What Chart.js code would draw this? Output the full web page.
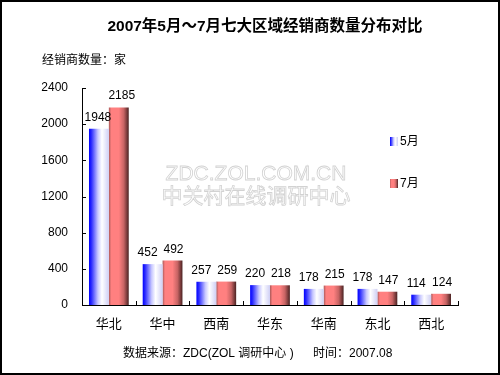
<!DOCTYPE html>
<html>
<head>
<meta charset="utf-8">
<script src="https://cdn.jsdelivr.net/npm/chart.js@4.4.0/dist/chart.umd.min.js"></script>
<style>
    html, body { margin: 0; padding: 0; background: #fff; }
    #wrap { width: 500px; height: 375px; position: relative; }
</style>
</head>
<body>
<div id="wrap"><canvas id="chart" width="500" height="375"></canvas></div>
<script>
const regions = ['华北', '华中', '西南', '华东', '华南', '东北', '西北'];
const may = [1948, 452, 257, 220, 178, 178, 114];
const july = [2185, 492, 259, 218, 215, 147, 124];
const seriesNames = ['5月', '7月'];
const yTicks = [0, 400, 800, 1200, 1600, 2000, 2400];

const FONT = "'Liberation Sans', Arial, 'Noto Sans CJK SC', sans-serif";
const CAT_PCT = 0.74;

// 漸層色: 藍色柱左深右白, 紅色柱右側變暗
function blueGrad(ctx, x0, x1) {
    const g = ctx.createLinearGradient(x0, 0, x1, 0);
    g.addColorStop(0, '#0000ff');
    g.addColorStop(0.12, '#2a2aff');
    g.addColorStop(0.45, '#c8c8ff');
    g.addColorStop(0.65, '#ffffff');
    g.addColorStop(1, '#cfcff5');
    return g;
}

function redGrad(ctx, x0, x1) {
    const g = ctx.createLinearGradient(x0, 0, x1, 0);
    g.addColorStop(0, '#a85858');
    g.addColorStop(0.12, '#ff8080');
    g.addColorStop(0.5, '#ff8080');
    g.addColorStop(0.75, '#c86464');
    g.addColorStop(1, '#4a2222');
    return g;
}

function barFill(c) {
    const chart = c.chart;
    const xs = chart.scales.x;
    const fallback = c.datasetIndex === 0 ? '#8080ff' : '#ff8080';
    if (!xs || typeof c.dataIndex !== 'number') return fallback;
    const center = xs.getPixelForValue(c.dataIndex);
    const w = (xs.width / regions.length) * CAT_PCT / 2;
    if (!isFinite(center) || !isFinite(w) || w <= 0) return fallback;
    const x0 = c.datasetIndex === 0 ? center - w : center;
    return c.datasetIndex === 0 ? blueGrad(chart.ctx, x0, x0 + w) : redGrad(chart.ctx, x0, x0 + w);
}

const decorPlugin = {
    id: 'decor',
    beforeDatasetsDraw(chart) {
        const ctx = chart.ctx;
        // 水印
        ctx.save();
        ctx.textAlign = 'center';
        ctx.textBaseline = 'alphabetic';
        ctx.lineWidth = 0.8;
        ctx.strokeStyle = '#d2d2d2';
        ctx.fillStyle = '#ffffff';
        ctx.font = "21px 'Liberation Sans', Arial, sans-serif";
        ctx.fillText('ZDC.ZOL.COM.CN', 256, 180);
        ctx.strokeText('ZDC.ZOL.COM.CN', 256, 180);
        ctx.font = "21px 'Noto Sans CJK SC', sans-serif";
        ctx.fillText('中关村在线调研中心', 256, 203, 196);
        ctx.strokeText('中关村在线调研中心', 256, 203, 196);
        ctx.restore();
    },
    afterDraw(chart) {
        const ctx = chart.ctx;
        const xs = chart.scales.x;
        const ys = chart.scales.y;
        const area = chart.chartArea;
        ctx.save();

        // 內側刻度
        ctx.strokeStyle = '#000';
        ctx.lineWidth = 1;
        ctx.beginPath();
        yTicks.forEach(v => {
            const y = Math.round(ys.getPixelForValue(v)) + 0.5;
            ctx.moveTo(area.left, y);
            ctx.lineTo(area.left + 4, y);
        });
        for (let i = 0; i <= regions.length; i++) {
            const x = Math.round(xs.getPixelForValue(i - 0.5)) + 0.5;
            ctx.moveTo(x, area.bottom);
            ctx.lineTo(x, area.bottom - 4);
        }
        ctx.stroke();

        // 數值標籤 (兩組標籤稍微錯開)
        ctx.fillStyle = '#000';
        ctx.font = '12px ' + FONT;
        ctx.textAlign = 'center';
        ctx.textBaseline = 'alphabetic';
        chart.data.datasets.forEach((ds, di) => {
            chart.getDatasetMeta(di).data.forEach((bar, i) => {
                const text = String(ds.data[i]);
                let dx = di === 0 ? -5 : 1;
                if (text.length > 3) dx = di === 0 ? -1 : 3;
                ctx.fillText(text, bar.x + dx, bar.y - 8);
            });
        });

        // 圖例
        ctx.textAlign = 'left';
        ctx.textBaseline = 'middle';
        const legendY = [141, 183];
        chart.data.datasets.forEach((ds, di) => {
            const y = legendY[di];
            ctx.fillStyle = di === 0 ? blueGrad(ctx, 390, 398) : redGrad(ctx, 390, 398);
            ctx.fillRect(390, y - 4, 8, 9);
            ctx.fillStyle = '#000';
            ctx.font = '12px ' + FONT;
            ctx.fillText(ds.label, 400, y + 1);
        });

        // 標題與文字
        ctx.font = "bold 15.5px 'Liberation Sans', Arial, 'Noto Sans CJK SC', sans-serif";
        ctx.textAlign = 'center';
        ctx.textBaseline = 'middle';
        ctx.fillText('2007年5月～7月七大区域经销商数量分布对比', 265, 27);
        ctx.font = '12px ' + FONT;
        ctx.textAlign = 'left';
        ctx.fillText('经销商数量：家', 42, 61);
        ctx.fillText('数据来源：ZDC(ZOL 调研中心 )', 123, 354);
        ctx.fillText('时间：2007.08', 313, 354);

        // 外框
        ctx.strokeStyle = '#000';
        ctx.lineWidth = 2;
        ctx.strokeRect(1, 1, chart.width - 2, chart.height - 2);
        ctx.restore();
    }
};

window.onload = () => {
    const ctx = document.getElementById('chart').getContext('2d');
    new Chart(ctx, {
        type: 'bar',
        data: {
            labels: regions,
            datasets: [
                { label: seriesNames[0], data: may, backgroundColor: barFill, borderWidth: 0 },
                { label: seriesNames[1], data: july, backgroundColor: barFill, borderWidth: 0 }
            ]
        },
        options: {
            responsive: false,
            animation: false,
            layout: { padding: { left: 0, top: 88, right: 42, bottom: 0 } },
            plugins: {
                legend: { display: false },
                tooltip: { enabled: false },
                title: { display: false }
            },
            datasets: {
                bar: { categoryPercentage: CAT_PCT, barPercentage: 1 }
            },
            scales: {
                x: {
                    grid: { display: false, drawTicks: false },
                    border: { display: true, color: '#000', width: 1 },
                    ticks: {
                        color: '#000',
                        padding: 12,
                        font: { family: FONT, size: 13 }
                    },
                    afterFit(s) { s.height = 70; }
                },
                y: {
                    min: 0,
                    max: 2400,
                    grid: { display: false, drawTicks: false },
                    border: { display: true, color: '#000', width: 1 },
                    afterBuildTicks(s) { s.ticks = yTicks.map(v => ({ value: v })); },
                    ticks: {
                        color: '#000',
                        padding: 14,
                        font: { family: FONT, size: 12 },
                        callback: v => String(v)
                    },
                    afterFit(s) { s.width = 82; }
                }
            }
        },
        plugins: [decorPlugin]
    });
};
</script>
</body>
</html>
